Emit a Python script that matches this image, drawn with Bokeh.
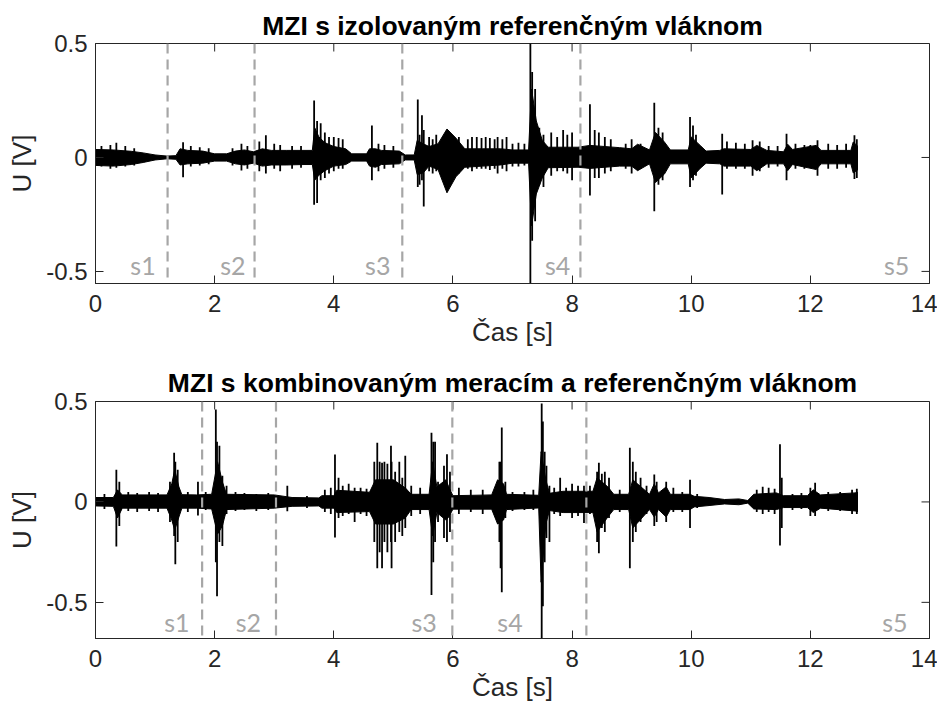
import math
from bokeh.plotting import figure
from bokeh.models import Range1d, FixedTicker, Span
from bokeh.layouts import column
from bokeh.core.properties import value
from bokeh.embed import file_html
from bokeh.resources import INLINE

# ---------------- data ----------------
title_top = "MZI s izolovaným referenčným vláknom"
title_bot = "MZI s kombinovaným meracím a referenčným vláknom"
x_label = "Čas [s]"
y_label = "U [V]"
x_ticks = [0, 2, 4, 6, 8, 10, 12, 14]
y_ticks = [-0.5, 0, 0.5]
y_tick_labels = ["-0.5", "0", "0.5"]
seg_names = ["s1", "s2", "s3", "s4", "s5"]

# top: dense core of the signal (time, upper, lower)
top_t = [0.0, 0.3, 0.6, 0.8, 1.0, 1.2, 1.35, 1.42, 1.55, 1.8, 2.0, 2.2, 2.35, 2.5, 2.65, 2.8, 2.95,
         3.2, 3.5, 3.64, 3.68, 3.75, 3.85, 4.0, 4.2, 4.3, 4.55, 4.6, 4.7, 4.8, 5.1, 5.2, 5.35, 5.4,
         5.5, 5.6, 5.75, 5.9, 6.05, 6.2, 6.5, 6.8, 7.0, 7.27, 7.32, 7.4, 7.5, 7.6, 8.1, 8.3, 8.8,
         9.0, 9.1, 9.3, 9.4, 9.55, 9.65, 9.95, 10.0, 10.15, 10.25, 10.48, 10.55, 11.0, 11.1, 11.27,
         11.55, 11.62, 11.7, 12.1, 12.18, 12.68, 12.72, 12.8]
top_up = [0.035, 0.033, 0.027, 0.02, 0.011, 0.006, 0.008, 0.038, 0.031, 0.028, 0.016, 0.016, 0.028,
          0.033, 0.025, 0.038, 0.031, 0.031, 0.031, 0.031, 0.13, 0.09, 0.065, 0.048, 0.038, 0.016,
          0.016, 0.038, 0.038, 0.031, 0.028, 0.011, 0.011, 0.075, 0.06, 0.048, 0.06, 0.125, 0.085,
          0.038, 0.038, 0.038, 0.033, 0.033, 0.3, 0.16, 0.075, 0.045, 0.045, 0.053, 0.043, 0.038,
          0.058, 0.033, 0.11, 0.068, 0.033, 0.033, 0.09, 0.053, 0.028, 0.031, 0.038, 0.035, 0.053,
          0.031, 0.025, 0.058, 0.035, 0.053, 0.031, 0.031, 0.068, 0.048]
top_lo = [-0.035, -0.038, -0.031, -0.022, -0.011, -0.006, -0.008, -0.033, -0.028, -0.025, -0.016,
          -0.016, -0.028, -0.033, -0.025, -0.038, -0.033, -0.033, -0.031, -0.031, -0.1, -0.078,
          -0.058, -0.038, -0.031, -0.016, -0.016, -0.038, -0.043, -0.031, -0.028, -0.011, -0.011,
          -0.075, -0.068, -0.038, -0.053, -0.155, -0.085, -0.043, -0.038, -0.033, -0.025, -0.025,
          -0.3, -0.16, -0.09, -0.045, -0.043, -0.048, -0.038, -0.038, -0.058, -0.028, -0.11,
          -0.073, -0.028, -0.028, -0.09, -0.048, -0.025, -0.028, -0.038, -0.038, -0.058, -0.028,
          -0.028, -0.058, -0.031, -0.053, -0.028, -0.028, -0.068, -0.053]
# top: individual spikes (time, max, min)
top_spk_t = [0.1, 0.25, 0.35, 0.5, 0.65, 1.47, 1.6, 1.75, 1.9, 2.3, 2.45, 2.55, 2.75, 2.86, 3.0,
             3.1, 3.3, 3.45, 3.67, 3.72, 3.78, 3.85, 3.92, 4.0, 4.08, 4.15, 4.64, 4.75, 4.85, 5.0,
             5.41, 5.44, 5.48, 5.51, 5.6, 5.66, 5.72, 6.1, 6.25, 6.32, 6.4, 6.48, 6.55, 6.62, 6.7,
             6.75, 6.83, 6.9, 7.0, 7.1, 7.2, 7.30, 7.33, 7.38, 7.45, 7.52, 7.65, 7.75, 7.85, 7.92,
             8.0, 8.30, 8.38, 8.45, 8.55, 8.65, 8.9, 9.0, 9.15, 9.38, 9.45, 9.52, 9.98, 10.03,
             10.08, 10.52, 10.6, 10.75, 10.9, 11.03, 11.15, 11.3, 11.45, 11.60, 11.75, 11.9, 12.0,
             12.12, 12.3, 12.45, 12.6, 12.74, 12.78]
top_spk_up = [0.05, 0.055, 0.065, 0.05, 0.04, 0.067, 0.05, 0.045, 0.04, 0.04, 0.06, 0.05, 0.07,
              0.097, 0.06, 0.055, 0.05, 0.05, 0.25, 0.16, 0.15, 0.11, 0.09, 0.09, 0.085, 0.08,
              0.14, 0.06, 0.055, 0.05, 0.254, 0.1, 0.185, 0.12, 0.09, 0.08, 0.1, 0.09, 0.08, 0.09,
              0.09, 0.085, 0.09, 0.085, 0.08, 0.09, 0.08, 0.09, 0.06, 0.065, 0.06, 0.5, 0.375,
              0.3, 0.13, 0.1, 0.11, 0.09, 0.12, 0.1, 0.11, 0.233, 0.12, 0.11, 0.09, 0.08, 0.06,
              0.08, 0.06, 0.24, 0.13, 0.11, 0.177, 0.14, 0.1, 0.104, 0.07, 0.065, 0.06, 0.075,
              0.07, 0.05, 0.05, 0.104, 0.06, 0.055, 0.055, 0.075, 0.06, 0.055, 0.06, 0.097, 0.08]
top_spk_lo = [-0.04, -0.05, -0.045, -0.04, -0.035, -0.087, -0.04, -0.035, -0.03, -0.035, -0.057,
              -0.05, -0.06, -0.07, -0.05, -0.06, -0.05, -0.045, -0.208, -0.2, -0.1, -0.09, -0.07,
              -0.06, -0.05, -0.05, -0.1, -0.06, -0.05, -0.045, -0.13, -0.12, -0.1, -0.215, -0.06,
              -0.07, -0.06, -0.07, -0.05, -0.06, -0.05, -0.05, -0.05, -0.055, -0.05, -0.07, -0.05,
              -0.06, -0.04, -0.04, -0.035, -0.553, -0.365, -0.28, -0.12, -0.13, -0.08, -0.06,
              -0.06, -0.07, -0.1, -0.167, -0.09, -0.09, -0.07, -0.06, -0.05, -0.07, -0.05, -0.236,
              -0.12, -0.1, -0.13, -0.1, -0.08, -0.163, -0.05, -0.05, -0.05, -0.08, -0.06, -0.045,
              -0.04, -0.1, -0.05, -0.05, -0.045, -0.08, -0.05, -0.05, -0.045, -0.094, -0.09]
top_marks = [1.21, 2.67, 5.15, 8.14]
top_label_x = [1.01, 2.52, 4.95, 7.97, 13.66]

# bottom: dense core
bot_t = [0.0, 0.3, 0.37, 0.45, 1.2, 1.28, 1.33, 1.4, 1.45, 1.7, 1.95, 2.05, 2.13, 2.2, 3.0, 3.3,
         3.75, 3.8, 4.0, 4.05, 4.6, 4.7, 5.0, 5.2, 5.3, 5.6, 5.66, 5.73, 5.88, 5.93, 6.0, 6.65,
         6.75, 6.85, 6.9, 7.44, 7.48, 7.56, 7.62, 7.85, 8.35, 8.42, 8.6, 8.7, 8.95, 9.02, 9.3,
         9.38, 9.45, 9.58, 9.65, 9.98, 10.05, 10.3, 10.56, 10.8, 10.95, 11.05, 11.43, 11.55,
         11.95, 12.05, 12.17, 12.75, 12.8]
bot_up = [0.022, 0.022, 0.06, 0.035, 0.035, 0.09, 0.16, 0.075, 0.036, 0.035, 0.038, 0.2, 0.1, 0.038,
          0.035, 0.022, 0.02, 0.031, 0.031, 0.058, 0.048, 0.11, 0.11, 0.07, 0.038, 0.038, 0.2,
          0.075, 0.11, 0.075, 0.031, 0.035, 0.11, 0.09, 0.038, 0.033, 0.25, 0.11, 0.043, 0.053,
          0.053, 0.12, 0.075, 0.038, 0.038, 0.11, 0.038, 0.09, 0.045, 0.075, 0.038, 0.038, 0.028,
          0.022, 0.012, 0.015, 0.007, 0.038, 0.045, 0.031, 0.031, 0.06, 0.035, 0.045, 0.048]
bot_lo = [-0.02, -0.022, -0.08, -0.031, -0.031, -0.09, -0.14, -0.075, -0.031, -0.031, -0.035,
          -0.16, -0.12, -0.038, -0.031, -0.022, -0.02, -0.031, -0.031, -0.053, -0.048, -0.11,
          -0.11, -0.08, -0.038, -0.038, -0.17, -0.053, -0.09, -0.075, -0.036, -0.036, -0.11,
          -0.09, -0.038, -0.03, -0.4, -0.11, -0.043, -0.053, -0.053, -0.15, -0.075, -0.038,
          -0.038, -0.13, -0.038, -0.075, -0.038, -0.075, -0.038, -0.038, -0.025, -0.018, -0.01,
          -0.014, -0.006, -0.035, -0.038, -0.028, -0.028, -0.053, -0.031, -0.045, -0.048]
bot_spk_t = [0.15, 0.35, 0.4, 0.55, 0.7, 0.9, 1.05, 1.25, 1.32, 1.34, 1.38, 1.55, 1.72, 1.85, 2.02,
             2.04, 2.08, 2.13, 2.2, 2.35, 2.5, 2.7, 2.9, 3.22, 3.55, 3.85, 3.95, 4.02, 4.08, 4.15,
             4.25, 4.35, 4.45, 4.55, 4.68, 4.73, 4.77, 4.81, 4.85, 4.9, 4.96, 4.97, 5.03, 5.1,
             5.15, 5.2, 5.3, 5.45, 5.64, 5.67, 5.7, 5.75, 5.85, 5.9, 5.95, 6.1, 6.3, 6.5, 6.78,
             6.80, 6.82, 6.88, 7.0, 7.2, 7.35, 7.49, 7.51, 7.54, 7.57, 7.62, 7.7, 7.8, 7.9, 8.0,
             8.1, 8.2, 8.3, 8.42, 8.45, 8.5, 8.55, 8.62, 8.8, 8.97, 9.02, 9.07, 9.15, 9.25, 9.38,
             9.42, 9.58, 9.7, 9.85, 9.98, 10.1, 11.1, 11.2, 11.3, 11.4, 11.49, 11.52, 11.7, 11.85,
             12.0, 12.08, 12.3, 12.5, 12.7, 12.78]
bot_spk_up = [0.04, 0.16, 0.1, 0.05, 0.045, 0.05, 0.045, 0.1, 0.245, 0.2, 0.16, 0.05, 0.1, 0.05,
              0.46, 0.3, 0.28, 0.13, 0.08, 0.05, 0.045, 0.04, 0.045, 0.08, 0.03, 0.06, 0.07,
              0.236, 0.12, 0.08, 0.09, 0.07, 0.07, 0.065, 0.2, 0.295, 0.2, 0.195, 0.2, 0.19, 0.28,
              0.2, 0.15, 0.2, 0.12, 0.23, 0.08, 0.07, 0.345, 0.3, 0.3, 0.1, 0.18, 0.237, 0.15,
              0.07, 0.06, 0.06, 0.2, 0.2, 0.37, 0.1, 0.05, 0.05, 0.06, 0.49, 0.4, 0.25, 0.18, 0.08,
              0.07, 0.12, 0.07, 0.09, 0.08, 0.08, 0.08, 0.15, 0.195, 0.14, 0.15, 0.12, 0.06, 0.27,
              0.2, 0.15, 0.12, 0.08, 0.137, 0.1, 0.1, 0.07, 0.05, 0.11, 0.04, 0.06, 0.075, 0.07,
              0.065, 0.287, 0.12, 0.04, 0.045, 0.07, 0.095, 0.05, 0.05, 0.06, 0.065]
bot_spk_lo = [-0.035, -0.222, -0.12, -0.045, -0.05, -0.045, -0.05, -0.1, -0.17, -0.31, -0.2,
              -0.05, -0.068, -0.04, -0.3, -0.47, -0.2, -0.22, -0.06, -0.045, -0.04, -0.045, -0.04,
              -0.047, -0.03, -0.05, -0.06, -0.177, -0.08, -0.07, -0.06, -0.1, -0.06, -0.07, -0.2,
              -0.33, -0.25, -0.33, -0.2, -0.25, -0.2, -0.33, -0.2, -0.15, -0.17, -0.13, -0.07,
              -0.06, -0.463, -0.3, -0.2, -0.1, -0.18, -0.2, -0.15, -0.06, -0.05, -0.06, -0.2,
              -0.33, -0.45, -0.08, -0.045, -0.04, -0.04, -0.68, -0.52, -0.3, -0.18, -0.2, -0.06,
              -0.07, -0.05, -0.08, -0.07, -0.105, -0.06, -0.2, -0.255, -0.13, -0.15, -0.08, -0.05,
              -0.33, -0.2, -0.15, -0.1, -0.06, -0.12, -0.1, -0.1, -0.05, -0.05, -0.13, -0.03,
              -0.05, -0.06, -0.05, -0.06, -0.217, -0.13, -0.04, -0.035, -0.07, -0.07, -0.045,
              -0.045, -0.06, -0.06]
bot_marks = [1.79, 3.03, 5.99, 8.24]
bot_label_x = [1.58, 2.78, 5.73, 7.17, 13.63]

# ---------------- styling ----------------
FONT = "Liberation Sans"
AX = "#262626"
GREY = "#a6a6a6"
TICK_LEN = 8


def style_axis(ax):
    ax.axis_line_color = AX
    ax.axis_line_width = 1
    ax.major_tick_line_color = AX
    ax.major_tick_in = TICK_LEN
    ax.major_tick_out = 0
    ax.minor_tick_line_color = None
    ax.major_label_text_font = FONT
    ax.major_label_text_color = AX
    ax.major_label_text_font_size = "24px"
    ax.axis_label_text_font = FONT
    ax.axis_label_text_font_size = "26px"
    ax.axis_label_text_font_style = "normal"
    ax.axis_label_text_color = AX


def make_fig(title, yr, fh, top_border, bottom_border, title_standoff,
             t, up, lo, st, sup, slo, marks, lab_x, lab_y):
    p = figure(frame_width=834, frame_height=fh, x_range=Range1d(0, 14), y_range=Range1d(*yr),
               output_backend="svg", toolbar_location=None,
               min_border_left=95, min_border_right=8, min_border_top=top_border,
               min_border_bottom=bottom_border)
    p.title.text = title
    p.title.align = "center"
    p.title.text_font = FONT
    p.title.text_font_size = "26.5px"
    p.title.text_font_style = "bold"
    p.title.text_color = "black"
    p.title.standoff = title_standoff
    p.xgrid.visible = False
    p.ygrid.visible = False
    p.outline_line_color = AX
    p.outline_line_width = 1

    p.xaxis.ticker = FixedTicker(ticks=x_ticks)
    p.yaxis.ticker = FixedTicker(ticks=y_ticks)
    p.yaxis.major_label_overrides = {tk: lb for tk, lb in zip(y_ticks, y_tick_labels)}
    p.xaxis.axis_label = x_label
    p.yaxis.axis_label = y_label
    style_axis(p.xaxis[0])
    style_axis(p.yaxis[0])
    p.xaxis.major_label_standoff = 11
    p.xaxis.axis_label_standoff = 2
    p.yaxis.major_label_standoff = 8
    p.yaxis.axis_label_standoff = 6

    # inward ticks on the top and right sides of the box
    p.ray(x=x_ticks, y=[yr[1]] * len(x_ticks), length=TICK_LEN, length_units="screen",
          angle=-math.pi / 2, line_color=AX, line_width=1)
    p.ray(x=[14] * len(y_ticks), y=y_ticks, length=TICK_LEN, length_units="screen",
          angle=math.pi, line_color=AX, line_width=1)

    for m in marks:
        p.add_layout(Span(location=m, dimension="height", line_color=GREY, line_width=2.2,
                          line_dash="10 6"))

    p.varea(x=t, y1=lo, y2=up, fill_color="black")
    p.line(x=t, y=up, line_color="black", line_width=1)
    p.line(x=t, y=lo, line_color="black", line_width=1)
    p.segment(x0=st, y0=slo, x1=st, y1=sup, line_color="black", line_width=1.8)

    p.text(x=lab_x, y=[lab_y] * len(lab_x), text=seg_names, text_align="right",
           text_baseline="middle", text_font=value("Lato"), text_font_size="25px",
           text_color=GREY)
    return p


p1 = make_fig(title_top, (-0.553, 0.5), 240, 43, 72, 5, top_t, top_up, top_lo,
              top_spk_t, top_spk_up, top_spk_lo, top_marks, top_label_x, -0.473)
p2 = make_fig(title_bot, (-0.68, 0.5), 237, 46, 60, 7, bot_t, bot_up, bot_lo,
              bot_spk_t, bot_spk_up, bot_spk_lo, bot_marks, bot_label_x, -0.596)

layout = column(p1, p2, spacing=0)
open("out.html", "w").write(file_html(layout, INLINE))
